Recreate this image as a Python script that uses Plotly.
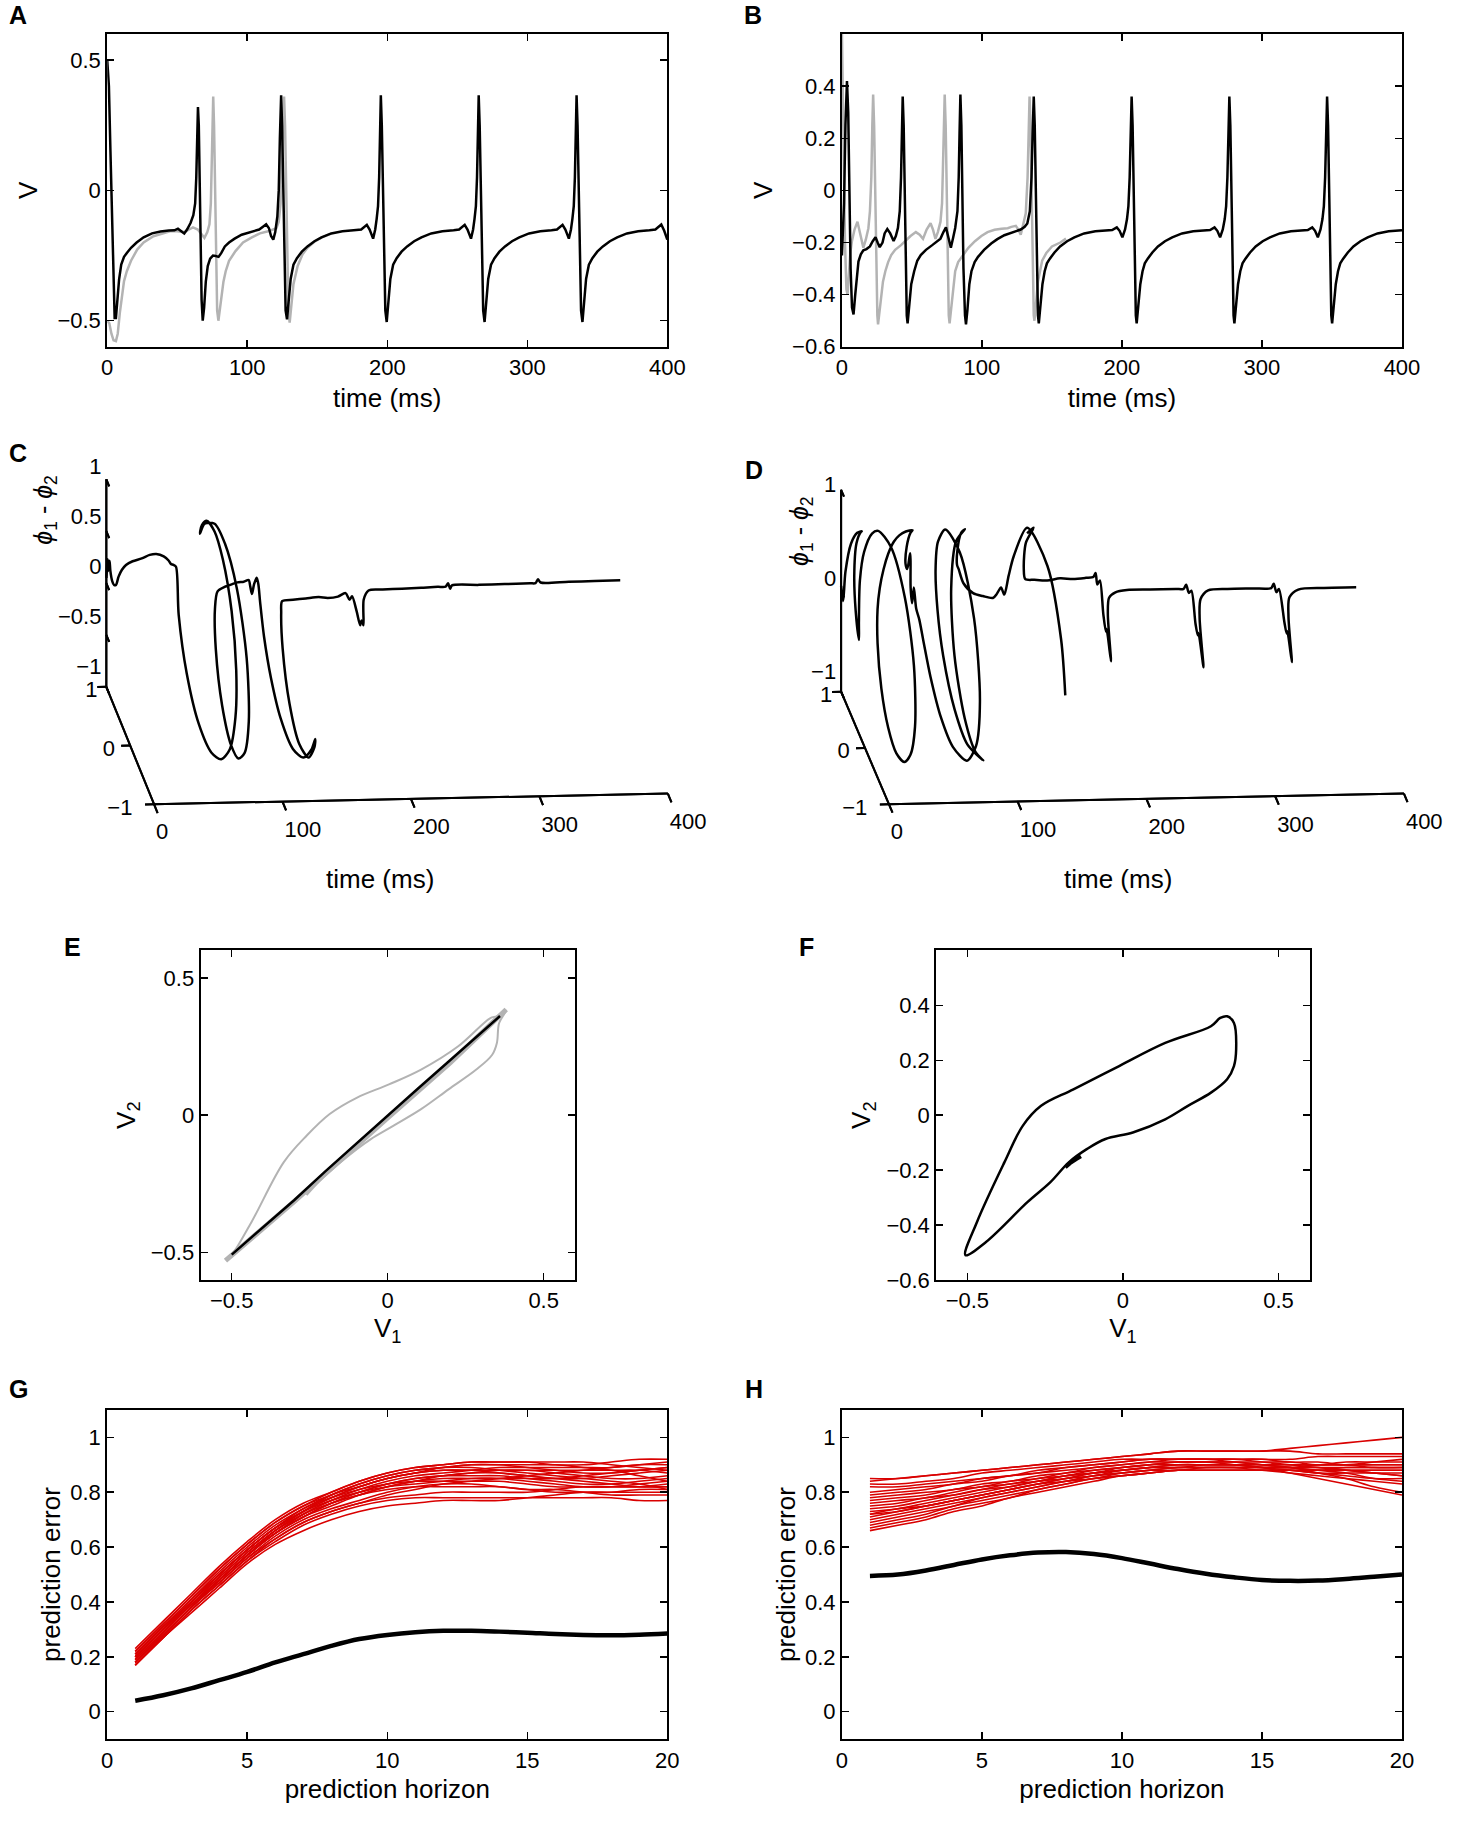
import numpy as np
import plotly.graph_objects as go

FONT = "Liberation Sans, Arial, Helvetica, sans-serif"

# ---------------- Panel A : V(t), black = coupled, gray = reference ----------------
a_black = [(0, 0.50), (1.2, 0.40), (2.3, 0.15), (3.3, -0.10), (4.3, -0.33), (5.3, -0.49), (6.2, -0.49),
           (7.3, -0.42), (8.5, -0.34), (10.0, -0.285), (12.0, -0.255), (14.0, -0.24), (17.0, -0.22),
           (21.0, -0.20), (26.0, -0.18), (32.0, -0.165), (38.0, -0.158), (44.0, -0.154), (48.0, -0.153),
           (50.5, -0.147), (52.5, -0.155), (55.0, -0.165), (57.0, -0.15), (59.5, -0.125), (61.5, -0.095),
           (62.8, -0.05), (63.6, 0.05), (64.2, 0.20), (64.8, 0.32), (65.4, 0.25), (66.0, 0.05), (66.7, -0.20),
           (67.4, -0.42), (68.2, -0.50), (69.2, -0.45), (70.4, -0.35), (71.8, -0.29), (73.5, -0.262),
           (75.5, -0.25), (77.5, -0.252), (79.5, -0.255), (81.5, -0.24), (84.0, -0.215), (87.0, -0.20),
           (91.0, -0.185), (96.0, -0.17), (101.0, -0.162), (105.5, -0.157), (108.5, -0.15), (111.0, -0.14),
           (113.5, -0.13), (115.5, -0.145), (117.0, -0.175), (118.6, -0.189), (120.0, -0.16), (121.5, -0.10),
           (122.5, 0.0), (123.3, 0.20), (124.2, 0.365), (124.9, 0.25), (125.6, 0.0), (126.4, -0.28),
           (127.4, -0.46), (128.4, -0.495), (129.5, -0.44), (131.0, -0.34), (133.0, -0.285), (135.5, -0.26),
           (139.0, -0.235), (143.0, -0.215), (148.0, -0.195), (153.0, -0.18), (160.0, -0.165), (168.0, -0.157),
           (176.0, -0.153), (181.4, -0.15), (185.4, -0.132), (187.4, -0.15), (189.9, -0.185), (191.4, -0.15),
           (192.4, -0.11), (193.4, -0.06), (194.2, 0.05), (194.8, 0.22), (195.4, 0.365), (196.1, 0.25),
           (196.8, 0.0), (197.6, -0.28), (198.6, -0.46), (199.6, -0.505), (200.7, -0.44), (202.2, -0.34),
           (204.2, -0.285), (206.7, -0.26), (210.2, -0.235), (214.2, -0.215), (219.2, -0.195), (224.4, -0.18),
           (231.4, -0.165), (239.4, -0.157), (247.4, -0.153), (251.3, -0.15), (255.3, -0.132), (257.3, -0.15),
           (259.8, -0.185), (261.3, -0.15), (262.3, -0.11), (263.3, -0.06), (264.1, 0.05), (264.7, 0.22),
           (265.3, 0.365), (266.0, 0.25), (266.7, 0.0), (267.5, -0.28), (268.5, -0.46), (269.5, -0.505),
           (270.6, -0.44), (272.1, -0.34), (274.1, -0.285), (276.6, -0.26), (280.1, -0.235), (284.1, -0.215),
           (289.1, -0.195), (294.3, -0.18), (301.3, -0.165), (309.3, -0.157), (317.3, -0.153), (321.2, -0.15),
           (325.2, -0.132), (327.2, -0.15), (329.7, -0.185), (331.2, -0.15), (332.2, -0.11), (333.2, -0.06),
           (334.0, 0.05), (334.6, 0.22), (335.2, 0.365), (335.9, 0.25), (336.6, 0.0), (337.4, -0.28),
           (338.4, -0.46), (339.4, -0.505), (340.5, -0.44), (342.0, -0.34), (344.0, -0.285), (346.5, -0.26),
           (350.0, -0.235), (354.0, -0.215), (359.0, -0.195), (364.2, -0.18), (371.2, -0.165), (379.2, -0.157),
           (387.2, -0.153), (391.5, -0.15), (395.7, -0.131), (397.8, -0.155), (400.0, -0.189)]

a_gray = [(0, -0.50), (1.5, -0.51), (3.0, -0.55), (4.5, -0.575), (6.2, -0.578), (7.5, -0.55), (9.0, -0.47),
          (10.5, -0.40), (12.0, -0.348), (14.0, -0.31), (17.0, -0.27), (21.4, -0.227), (26.0, -0.20),
          (33.0, -0.176), (39.0, -0.165), (44.8, -0.157), (50.0, -0.157), (55.0, -0.16), (58.5, -0.15),
          (61.2, -0.142), (64.7, -0.15), (67.0, -0.165), (69.4, -0.182), (71.5, -0.16), (73.0, -0.13),
          (74.0, -0.05), (74.7, 0.12), (75.2, 0.28), (75.7, 0.36), (76.3, 0.25), (76.9, 0.0), (77.6, -0.28),
          (78.5, -0.46), (79.4, -0.50), (80.4, -0.46), (81.6, -0.40), (83.0, -0.35), (84.6, -0.31),
          (87.0, -0.27), (91.6, -0.233), (97.0, -0.20), (103.3, -0.18), (109.0, -0.165), (115.0, -0.157),
          (118.0, -0.152), (120.8, -0.145), (122.5, -0.12), (123.8, -0.05), (124.8, 0.15), (125.6, 0.30),
          (126.3, 0.36), (127.0, 0.25), (127.7, 0.0), (128.5, -0.28), (129.4, -0.46), (130.3, -0.507),
          (131.4, -0.45), (133.0, -0.36), (136.0, -0.29), (139.5, -0.245), (143.0, -0.22), (148.0, -0.197),
          (153.0, -0.181), (160.0, -0.166)]

# ---------------- Panel B ----------------
b_black = [(0, -0.25), (1.5, -0.05), (2.5, 0.25), (3.6, 0.42), (4.5, 0.30), (5.3, 0.0), (6.2, -0.30),
           (7.2, -0.45), (8.3, -0.476), (9.5, -0.40), (10.5, -0.33), (11.8, -0.273), (13.5, -0.245),
           (15.3, -0.23), (17.5, -0.225), (20.0, -0.215), (22.0, -0.195), (24.0, -0.18), (25.5, -0.20),
           (27.0, -0.218), (29.0, -0.20), (30.5, -0.165), (32.4, -0.148), (34.5, -0.165), (36.9, -0.194),
           (38.5, -0.175), (40.0, -0.144), (41.3, -0.08), (42.2, 0.05), (42.8, 0.22), (43.4, 0.36),
           (44.1, 0.25), (44.8, 0.0), (45.6, -0.30), (46.3, -0.48), (46.9, -0.51), (47.9, -0.46),
           (49.5, -0.36), (51.6, -0.31), (53.8, -0.27), (56.3, -0.248), (60.0, -0.228), (64.5, -0.21),
           (70.4, -0.185), (72.5, -0.16), (74.3, -0.142), (76.0, -0.18), (77.8, -0.22), (79.5, -0.18),
           (80.9, -0.144), (82.5, -0.08), (83.4, 0.05), (84.0, 0.22), (84.6, 0.368), (85.3, 0.25),
           (86.0, 0.0), (86.8, -0.30), (87.9, -0.48), (88.6, -0.514), (89.6, -0.46), (91.0, -0.36),
           (92.5, -0.31), (94.8, -0.275), (97.2, -0.255), (101.5, -0.228), (106.6, -0.204), (111.0, -0.187),
           (116.0, -0.172), (122.0, -0.16), (127.7, -0.15), (130.5, -0.14), (132.4, -0.127), (134.2, -0.08),
           (135.4, 0.05), (136.2, 0.22), (137.0, 0.36), (137.7, 0.25), (138.4, 0.0), (139.2, -0.30),
           (140.0, -0.48), (140.6, -0.51), (141.6, -0.46), (143.2, -0.36), (144.8, -0.31), (146.4, -0.28),
           (148.5, -0.262), (151.8, -0.238), (155.8, -0.215), (160.8, -0.195), (166.0, -0.18), (173.0, -0.165),
           (181.0, -0.157), (189.0, -0.153), (193.0, -0.152), (196.3, -0.142), (198.3, -0.155), (200.3, -0.18),
           (202.2, -0.15), (203.6, -0.11), (204.6, -0.06), (205.5, 0.05), (206.2, 0.22), (206.9, 0.36),
           (207.6, 0.25), (208.3, 0.0), (209.1, -0.30), (209.9, -0.48), (210.5, -0.51), (211.5, -0.46),
           (213.1, -0.36), (214.7, -0.31), (216.3, -0.28), (218.4, -0.262), (221.7, -0.238), (225.7, -0.215),
           (230.7, -0.195), (235.9, -0.18), (242.9, -0.165), (250.9, -0.157), (258.9, -0.153), (262.9, -0.152),
           (266.1, -0.142), (268.1, -0.155), (270.1, -0.18), (272.0, -0.15), (273.4, -0.11), (274.4, -0.06),
           (275.3, 0.05), (276.0, 0.22), (276.7, 0.36), (277.4, 0.25), (278.1, 0.0), (278.9, -0.30),
           (279.7, -0.48), (280.3, -0.51), (281.3, -0.46), (282.9, -0.36), (284.5, -0.31), (286.1, -0.28),
           (288.2, -0.262), (291.5, -0.238), (295.5, -0.215), (300.5, -0.195), (305.7, -0.18), (312.7, -0.165),
           (320.7, -0.157), (328.7, -0.153), (332.7, -0.152), (335.9, -0.142), (337.9, -0.155), (339.9, -0.18),
           (341.8, -0.15), (343.2, -0.11), (344.2, -0.06), (345.1, 0.05), (345.8, 0.22), (346.5, 0.36),
           (347.2, 0.25), (347.9, 0.0), (348.7, -0.30), (349.5, -0.48), (350.1, -0.51), (351.1, -0.46),
           (352.7, -0.36), (354.3, -0.31), (355.9, -0.28), (358.0, -0.262), (361.3, -0.238), (365.3, -0.215),
           (370.3, -0.195), (375.5, -0.18), (382.5, -0.165), (390.5, -0.157), (398.5, -0.153), (400.0, -0.153)]

b_gray = [(0, 0.60), (1.0, 0.20), (2.2, -0.20), (3.2, -0.38), (4.0, -0.40), (5.0, -0.32), (6.0, -0.24),
          (7.1, -0.196), (9.0, -0.15), (11.1, -0.12), (13.0, -0.17), (15.3, -0.22), (17.0, -0.19),
          (18.9, -0.145), (20.0, -0.08), (21.0, 0.05), (21.7, 0.25), (22.3, 0.368), (23.0, 0.25), (23.7, 0.0),
          (24.5, -0.30), (25.3, -0.48), (25.8, -0.514), (26.8, -0.47), (28.0, -0.40), (29.3, -0.35),
          (31.0, -0.31), (33.0, -0.275), (35.2, -0.248), (38.0, -0.228), (42.2, -0.21), (45.7, -0.19),
          (49.0, -0.175), (52.8, -0.16), (55.5, -0.17), (57.9, -0.186), (60.5, -0.15), (63.3, -0.126),
          (65.0, -0.15), (66.8, -0.186), (68.5, -0.16), (70.4, -0.12), (71.5, -0.05), (72.2, 0.10),
          (72.8, 0.25), (73.4, 0.368), (74.1, 0.25), (74.8, 0.0), (75.6, -0.30), (76.3, -0.48), (76.9, -0.51),
          (77.9, -0.46), (79.3, -0.37), (80.9, -0.31), (83.0, -0.275), (85.6, -0.255), (90.3, -0.22),
          (95.0, -0.195), (99.6, -0.175), (104.0, -0.16), (109.0, -0.151), (114.0, -0.147), (118.4, -0.145),
          (121.0, -0.14), (124.2, -0.136), (126.0, -0.15), (127.7, -0.17), (129.5, -0.13), (131.3, -0.088),
          (132.6, 0.05), (133.3, 0.22), (134.0, 0.36), (134.7, 0.25), (135.4, 0.0), (136.2, -0.30),
          (137.0, -0.48), (137.5, -0.50), (138.5, -0.45), (140.0, -0.35), (143.0, -0.27), (146.0, -0.24),
          (150.0, -0.215), (156.0, -0.20), (160.0, -0.185)]

# ---------------- Panels C, D : phase difference (rad) vs time, drawn as (t, cos, sin) ----------------
c_phase = [(0, 0.05), (0.5, 0.25), (1.2, 0.12), (2, 0.23), (3, 0.12), (4.5, 0.02), (6, -0.02), (7.5, -0.02),
           (9.5, 0.06), (12, 0.13), (15, 0.18), (20, 0.22), (27, 0.25), (33, 0.29), (38, 0.30), (44, 0.27),
           (48, 0.22), (50, 0.18), (52, 0.17), (54, 0.15), (55.5, -0.3), (57, -0.8), (58.5, -1.3), (60, -1.75),
           (61.5, -2.1), (62.7, -2.5), (63.7, -2.95), (64.6, -3.4), (65.5, -3.9), (66.4, -4.4), (67.3, -4.8),
           (68.2, -5.2), (69, -5.5), (69.8, -5.7), (70.4, -5.45), (71, -5.0), (71.6, -4.6), (72.4, -4.1),
           (73.3, -3.5), (74.3, -2.9), (75.3, -2.4), (76.5, -2.0), (78, -1.6), (80, -1.1), (82, -0.6),
           (84, -0.25), (86.5, -0.1), (92, -0.06), (97, -0.04), (102, -0.02), (107, -0.015), (110.8, 0.0),
           (112, -0.06), (113.2, -0.13), (115, -0.04), (117, 0.02), (118.3, -0.04), (119.3, -0.2),
           (120.5, -0.5), (121.8, -0.85), (123, -1.25), (124.3, -1.7), (125.5, -2.1), (126.7, -2.45),
           (127.7, -2.65), (128.5, -2.5), (129.5, -2.1), (131, -1.6), (132.5, -1.1), (134, -0.6), (135.3, -0.3),
           (136.5, -0.2), (145, -0.19), (155, -0.18), (165, -0.17), (172, -0.18), (180, -0.17), (186, -0.14),
           (189, -0.2), (191, -0.17), (194, -0.3), (196, -0.42), (197.3, -0.38), (198.5, -0.42), (200, -0.2),
           (204, -0.12), (215, -0.115), (230, -0.11), (245, -0.105), (258, -0.10), (264, -0.10), (266, -0.07),
           (267.5, -0.12), (269, -0.09), (290, -0.09), (310, -0.088), (329.8, -0.085), (334, -0.085),
           (336, -0.05), (338, -0.08), (360, -0.078), (380, -0.077), (400, -0.075)]

d_phase = [(0, 0.05), (1.5, -0.1), (3, 0.2), (4.5, 0.6), (5.5, 0.9), (6.5, 1.06), (7.5, 0.95), (8.7, 0.6),
           (10, 0.15), (11, -0.2), (12, -0.45), (13, -0.3), (14.5, 0.1), (16, 0.45), (17.7, 0.85), (19.3, 1.06),
           (19.7, 1.6), (20.1, 2.2), (20.5, 2.8), (20.9, 3.4), (21.2, 3.85), (21.5, 4.2), (22.2, 4.6),
           (23.2, 5.0), (24.5, 5.4), (26.2, 5.8), (28, 6.1), (30, 6.3), (32.5, 6.5), (35, 6.7), (37.5, 6.9),
           (40, 7.05), (43, 7.2), (46, 7.34), (47.5, 7.15), (48.5, 6.8), (49.5, 6.55), (51, 6.5), (52, 6.7),
           (53, 6.6), (54, 6.3), (55, 6.15), (56.5, 6.3), (58, 6.1), (60, 6.0), (62, 5.8), (64, 5.5),
           (66, 5.1), (68, 4.7), (70, 4.2), (70.4, 3.7), (70.7, 3.14), (71, 2.4), (71.2, 1.7), (71.4, 1.06),
           (72, 0.6), (73, 0.2), (74.5, -0.2), (76, -0.6), (78, -1.1), (80, -1.55), (82.7, -2.08),
           (83.5, -1.7), (84.2, -1.2), (84.8, -0.6), (85.5, 0.0), (86.1, 0.6), (86.7, 1.06), (87.5, 0.8),
           (88.5, 0.45), (89.5, 0.25), (91, 0.2), (95, 0.05), (102.5, -0.05), (110, -0.08), (117.8, -0.1),
           (121, -0.06), (124.2, 0.0), (126.7, -0.07), (130, 0.12), (133, 0.35), (135, 1.06), (135.7, 1.9),
           (136.4, 2.6), (137, 3.1), None,
           (139.5, 0.75), (140, 1.06), (140.8, 0.55), (141.5, 0.2), (143, 0.08), (150, 0.07), (160, 0.06),
           (170, 0.08), (180, 0.07), (190, 0.08), (196, 0.09), (197.5, 0.13), (199, 0.01), (201, 0.05),
           (203, -0.27), (204, -0.42), (204.7, -0.40), (205.5, -0.68), (206.5, -0.27), (208, -0.12),
           (213, -0.07), (222, -0.05), (240, -0.05), (260, -0.05), (266, -0.05), (268, -0.01), (270, -0.09),
           (272, -0.07), (274, -0.37), (275, -0.47), (275.7, -0.45), (276.5, -0.75), (277.5, -0.32),
           (279, -0.15), (285, -0.07), (300, -0.06), (320, -0.06), (334, -0.06), (336, -0.02), (338, -0.10),
           (340, -0.07), (343, -0.37), (344, -0.47), (344.7, -0.45), (345.5, -0.72), (346.5, -0.32),
           (348, -0.15), (355, -0.08), (375, -0.07), (400, -0.07)]

# 3-D box of panels C and D (MATLAB-style plot3 axes)
box_time_ticks = [0, 100, 200, 300, 400]
box_time_labels = ["0", "100", "200", "300", "400"]
box_depth_ticks = [-1, 0, 1]
box_depth_labels = ["\u22121", "0", "1"]
c_vert_ticks = [-1, -0.5, 0, 0.5, 1]
c_vert_labels = ["\u22121", "\u22120.5", "0", "0.5", "1"]
d_vert_ticks = [-1, 0, 1]
d_vert_labels = ["\u22121", "0", "1"]

# ---------------- Panels E, F : V2 vs V1 ----------------
e_black_v1 = [-0.50, -0.40, -0.30, -0.20, -0.10, 0.0, 0.10, 0.20, 0.30, 0.36]
e_black_v2 = [-0.508, -0.41, -0.31, -0.205, -0.103, 0.0, 0.10, 0.20, 0.30, 0.361]
e_gray_loop_v1 = [-0.514, -0.499, -0.436, -0.333, -0.26, -0.186, -0.098, 0.004, 0.107, 0.225, 0.328, 0.35,
                  0.379, 0.357, 0.35, 0.335, 0.284, 0.195, 0.107, 0.019, -0.054, -0.098, -0.157, -0.216, -0.26]
e_gray_loop_v2 = [-0.523, -0.508, -0.388, -0.171, -0.075, 0.004, 0.064, 0.112, 0.166, 0.25, 0.353, 0.361,
                  0.381, 0.335, 0.263, 0.22, 0.166, 0.094, 0.022, -0.038, -0.087, -0.123, -0.177, -0.237, -0.291]
e_gray_diag_v1 = [-0.52, -0.30, 0.0, 0.20, 0.38]
e_gray_diag_v2 = [-0.53, -0.315, -0.01, 0.19, 0.385]

f_v1 = [-0.506, -0.469, -0.381, -0.322, -0.263, -0.159, -0.012, 0.136, 0.283, 0.313, 0.335, 0.357, 0.364,
        0.357, 0.335, 0.283, 0.209, 0.136, 0.032, -0.056, -0.115, -0.174, -0.233, -0.307, -0.44, -0.506]
f_v2 = [-0.51, -0.389, -0.172, -0.039, 0.034, 0.094, 0.179, 0.263, 0.324, 0.354, 0.36, 0.336, 0.239, 0.179,
        0.131, 0.082, 0.034, -0.015, -0.063, -0.087, -0.123, -0.172, -0.244, -0.317, -0.462, -0.51]
f_trans_v1 = [-0.185, -0.17, -0.15, -0.135]
f_trans_v2 = [-0.19, -0.175, -0.16, -0.15]

# ---------------- Panels G, H : prediction error ----------------
horizon = list(range(1, 21))
g_black = [0.04, 0.06, 0.085, 0.115, 0.145, 0.18, 0.21, 0.24, 0.265, 0.28, 0.29, 0.295, 0.295, 0.292, 0.288,
           0.283, 0.28, 0.279, 0.281, 0.285]
g_red = [
    [.23, .33, .43, .53, .62, .70, .76, .80, .84, .87, .89, .90, .91, .91, .91, .90, .90, .91, .92, .92],
    [.22, .32, .42, .52, .61, .69, .75, .79, .83, .86, .88, .89, .90, .90, .89, .88, .87, .87, .88, .89],
    [.21, .31, .41, .50, .59, .67, .73, .78, .82, .85, .87, .88, .88, .87, .86, .85, .85, .86, .87, .88],
    [.20, .30, .40, .49, .58, .66, .72, .77, .80, .83, .85, .86, .86, .86, .85, .84, .83, .83, .84, .85],
    [.19, .29, .39, .48, .57, .65, .71, .75, .79, .82, .84, .85, .85, .85, .84, .83, .82, .82, .82, .83],
    [.18, .28, .38, .47, .56, .64, .70, .74, .77, .80, .82, .83, .83, .82, .81, .80, .80, .80, .81, .81],
    [.17, .27, .37, .46, .55, .62, .68, .72, .75, .77, .78, .78, .78, .78, .78, .78, .78, .78, .77, .77],
    [.17, .27, .36, .45, .54, .61, .66, .70, .73, .75, .76, .77, .77, .77, .78, .79, .80, .80, .80, .80],
    [.18, .28, .38, .48, .57, .66, .73, .79, .83, .86, .88, .89, .90, .90, .90, .90, .89, .88, .86, .84],
    [.20, .30, .40, .50, .59, .67, .74, .78, .81, .83, .84, .84, .84, .84, .83, .82, .82, .82, .83, .84],
    [.19, .29, .39, .49, .58, .66, .72, .76, .79, .81, .82, .82, .82, .82, .81, .81, .80, .79, .79, .79],
    [.21, .31, .41, .51, .60, .68, .74, .79, .82, .85, .87, .89, .89, .88, .87, .86, .85, .84, .83, .81],
    [.18, .28, .38, .47, .56, .63, .69, .73, .76, .79, .81, .83, .84, .85, .86, .87, .88, .89, .90, .90],
    [.20, .30, .40, .50, .59, .67, .73, .78, .82, .85, .87, .88, .88, .88, .88, .88, .88, .88, .88, .87],
    [.22, .32, .42, .52, .61, .69, .75, .80, .84, .87, .89, .90, .91, .91, .91, .91, .91, .90, .89, .88],
    [.19, .29, .39, .48, .57, .65, .71, .76, .80, .83, .85, .86, .87, .88, .88, .87, .86, .85, .85, .86],
    [.21, .31, .40, .50, .59, .67, .73, .77, .80, .82, .83, .84, .85, .85, .85, .85, .86, .87, .88, .89],
    [.17, .27, .37, .46, .55, .63, .69, .73, .76, .78, .79, .80, .80, .80, .80, .81, .82, .82, .82, .82],
    [.20, .30, .39, .48, .57, .65, .71, .76, .79, .82, .84, .86, .87, .87, .86, .85, .84, .83, .82, .82],
    [.18, .28, .38, .48, .57, .65, .72, .77, .81, .84, .86, .87, .88, .89, .89, .89, .89, .89, .90, .91],
]
h_black = [0.495, 0.50, 0.515, 0.535, 0.555, 0.57, 0.58, 0.582, 0.575, 0.56, 0.54, 0.52, 0.503, 0.49, 0.48,
           0.477, 0.478, 0.484, 0.492, 0.50]
h_red = [
    [.85, .85, .86, .87, .88, .89, .90, .91, .92, .93, .94, .95, .95, .95, .95, .96, .97, .98, .99, 1.0],
    [.84, .85, .86, .87, .88, .89, .90, .91, .92, .93, .94, .95, .95, .95, .95, .95, .94, .94, .94, .94],
    [.83, .83, .84, .85, .87, .88, .89, .90, .91, .92, .92, .92, .92, .92, .92, .92, .93, .93, .93, .93],
    [.80, .81, .82, .83, .85, .86, .88, .89, .90, .91, .92, .92, .92, .91, .90, .89, .88, .87, .85, .84],
    [.79, .80, .81, .83, .84, .86, .87, .88, .89, .90, .91, .92, .92, .92, .91, .90, .89, .88, .87, .86],
    [.78, .79, .80, .81, .83, .84, .86, .87, .89, .90, .91, .91, .91, .90, .89, .87, .85, .83, .81, .79],
    [.77, .78, .79, .81, .82, .84, .85, .87, .88, .89, .90, .91, .91, .91, .91, .91, .90, .90, .89, .89],
    [.76, .77, .78, .80, .82, .83, .85, .86, .88, .89, .90, .91, .91, .91, .90, .89, .87, .85, .82, .80],
    [.75, .76, .78, .79, .81, .83, .84, .86, .87, .89, .90, .90, .90, .90, .90, .90, .90, .91, .91, .91],
    [.74, .75, .77, .79, .81, .82, .84, .86, .87, .88, .89, .90, .90, .90, .89, .89, .88, .88, .88, .88],
    [.73, .74, .76, .78, .80, .82, .84, .85, .87, .88, .89, .89, .90, .90, .90, .90, .90, .90, .90, .90],
    [.72, .74, .75, .77, .79, .81, .83, .85, .87, .88, .89, .90, .90, .90, .89, .88, .87, .86, .85, .85],
    [.71, .73, .75, .77, .79, .81, .83, .84, .86, .87, .88, .89, .89, .89, .89, .89, .89, .89, .89, .89],
    [.70, .72, .74, .76, .78, .80, .82, .84, .86, .87, .88, .89, .89, .89, .89, .89, .90, .90, .91, .92],
    [.69, .71, .73, .75, .78, .80, .82, .84, .85, .87, .88, .88, .89, .89, .88, .88, .87, .87, .87, .87],
    [.68, .70, .72, .75, .77, .79, .81, .83, .85, .86, .87, .88, .88, .88, .88, .88, .88, .88, .88, .88],
    [.67, .69, .71, .74, .76, .78, .81, .83, .85, .86, .87, .88, .88, .88, .88, .87, .86, .85, .84, .83],
    [.66, .68, .70, .73, .75, .78, .80, .82, .84, .86, .87, .88, .88, .88, .88, .88, .88, .89, .89, .89],
    [.82, .82, .83, .84, .85, .86, .87, .89, .90, .91, .92, .92, .92, .92, .92, .91, .91, .90, .90, .90],
    [.72, .73, .75, .77, .79, .81, .83, .85, .86, .88, .89, .89, .89, .89, .89, .89, .89, .88, .87, .86],
]

BLACK = "#000000"
GRAY = "#b3b3b3"
RED = "#d90000"
W, H = 1466, 1822


def unzip(pairs):
    return [p[0] for p in pairs], [p[1] for p in pairs]


# Orthographic views for the two 3-D panels (page pixel units): origin = corner (t=0, y=-1, z=-1),
# then the screen displacement per unit of t, y and z; label offsets for the vertical axis.
C_VIEW = dict(ox=150.5, oy=810.0, tx=1.306, ty=-0.02675, yx=-24.25, yy=-59.15, zx=0.0, zy=-104.5,
              lab_a=11.0, lab_b=3.5)
D_VIEW = dict(ox=897.6, oy=810.0, tx=1.309, ty=-0.02675, yx=-24.3, yy=-56.65, zx=0.0, zy=-101.7,
              lab_a=3.0, lab_b=7.5)
PANEL_BOTTOM = 930.0  # page y of the bottom of the C/D drawing axes


def project(view, t, y, z):
    px = view["ox"] + t * view["tx"] + (y + 1) * view["yx"] + (z + 1) * view["zx"]
    py = view["oy"] + t * view["ty"] + (y + 1) * view["yy"] + (z + 1) * view["zy"]
    return px, PANEL_BOTTOM - py


def phase_curve(view, pairs):
    xs, ys = [], []
    for p in pairs:
        if p is None:
            xs.append(None); ys.append(None)
            continue
        X, Y = project(view, p[0], float(np.cos(p[1])), float(np.sin(p[1])))
        xs.append(X); ys.append(Y)
    return xs, ys


fig = go.Figure()

# A
tx, vy = unzip(a_gray)
fig.add_trace(go.Scatter(x=tx, y=vy, mode="lines", line=dict(color=GRAY, width=2.5), xaxis="x", yaxis="y"))
tx, vy = unzip(a_black)
fig.add_trace(go.Scatter(x=tx, y=vy, mode="lines", line=dict(color=BLACK, width=2.5), xaxis="x", yaxis="y"))
# B
tx, vy = unzip(b_gray)
fig.add_trace(go.Scatter(x=tx, y=vy, mode="lines", line=dict(color=GRAY, width=2.5), xaxis="x2", yaxis="y2"))
tx, vy = unzip(b_black)
fig.add_trace(go.Scatter(x=tx, y=vy, mode="lines", line=dict(color=BLACK, width=2.5), xaxis="x2", yaxis="y2"))

# C and D: projected 3-D curves with their box axes
annotations = []
shapes = []
LABEL_FONT = dict(family=FONT, size=22, color="black")


def to_paper(X, Y):
    return X / W, (H - PANEL_BOTTOM + Y) / H


def segs(view, pairs_ab, xa, ya, width=2):
    xs, ys = [], []
    for a, b in pairs_ab:
        p0 = project(view, *a)
        p1 = project(view, *b)
        xs += [p0[0], p1[0], None]
        ys += [p0[1], p1[1], None]
        q0 = to_paper(*p0)
        q1 = to_paper(*p1)
        shapes.append(dict(type="line", xref="paper", yref="paper", x0=q0[0], y0=q0[1], x1=q1[0], y1=q1[1],
                           line=dict(color=BLACK, width=width), layer="above"))
    fig.add_trace(go.Scatter(x=xs, y=ys, mode="lines", connectgaps=False, cliponaxis=False,
                             line=dict(color=BLACK, width=width, simplify=False), xaxis=xa, yaxis=ya))


def labels(xs, ys, texts, pos, xa, ya):
    fig.add_trace(go.Scatter(x=xs, y=ys, text=texts, mode="text", textposition=pos, cliponaxis=False,
                             textfont=LABEL_FONT, xaxis=xa, yaxis=ya))


for view, pairs, vt, vl, xa, ya in [(C_VIEW, c_phase, c_vert_ticks, c_vert_labels, "x7", "y7"),
                                     (D_VIEW, d_phase, d_vert_ticks, d_vert_labels, "x8", "y8")]:
    box = [((0, -1, -1), (400, -1, -1)), ((0, 1, -1), (0, -1, -1)), ((0, 1, -1), (0, 1, 1))]
    box += [((t, -1, -1), (t, -1.15, -1)) for t in box_time_ticks]
    box += [((0, yv, -1), (-7, yv, -1)) for yv in box_depth_ticks]
    box += [((0, 1, zv), (0, 0.88, zv)) for zv in vt]
    segs(view, box, xa, ya)
    cx, cy = phase_curve(view, pairs)
    fig.add_trace(go.Scatter(x=cx, y=cy, mode="lines", connectgaps=False, cliponaxis=False,
                             line=dict(color=BLACK, width=2.5, shape="spline", smoothing=0.8),
                             xaxis=xa, yaxis=ya))
    lx, ly = [], []
    for t in box_time_ticks:
        X, Y = project(view, t, -1, -1)
        lx.append(X + 2); ly.append(Y - 30)
    labels(lx, ly, box_time_labels, "middle right", xa, ya)
    lx, ly = [], []
    for yv in box_depth_ticks:
        X, Y = project(view, 0, yv, -1)
        lx.append(X - (9 + 6.5 * (1 - yv))); ly.append(Y - 5)
    labels(lx, ly, box_depth_labels, "middle left", xa, ya)
    lx, ly = [], []
    for zv in vt:
        X, Y = project(view, 0, 1, zv)
        lx.append(X - 5); ly.append(Y + view["lab_a"] + view["lab_b"] * (1 - zv))
    labels(lx, ly, vl, "middle left", xa, ya)

# E
fig.add_trace(go.Scatter(x=e_gray_loop_v1, y=e_gray_loop_v2, mode="lines",
                         line=dict(color=GRAY, width=2, shape="spline"), xaxis="x3", yaxis="y3"))
fig.add_trace(go.Scatter(x=e_gray_diag_v1, y=e_gray_diag_v2, mode="lines", line=dict(color=GRAY, width=5),
                         xaxis="x3", yaxis="y3"))
fig.add_trace(go.Scatter(x=e_black_v1, y=e_black_v2, mode="lines", line=dict(color=BLACK, width=2.5),
                         xaxis="x3", yaxis="y3"))
# F
fig.add_trace(go.Scatter(x=f_v1, y=f_v2, mode="lines", line=dict(color=BLACK, width=2.5, shape="spline"),
                         xaxis="x4", yaxis="y4"))
fig.add_trace(go.Scatter(x=f_trans_v1, y=f_trans_v2, mode="lines", line=dict(color=BLACK, width=4),
                         xaxis="x4", yaxis="y4"))
# G
for row in g_red:
    fig.add_trace(go.Scatter(x=horizon, y=row, mode="lines", line=dict(color=RED, width=1.6, shape="spline"),
                             xaxis="x5", yaxis="y5"))
fig.add_trace(go.Scatter(x=horizon, y=g_black, mode="lines", line=dict(color=BLACK, width=4.5, shape="spline"),
                         xaxis="x5", yaxis="y5"))
# H
for row in h_red:
    fig.add_trace(go.Scatter(x=horizon, y=row, mode="lines", line=dict(color=RED, width=1.6, shape="spline"),
                             xaxis="x6", yaxis="y6"))
fig.add_trace(go.Scatter(x=horizon, y=h_black, mode="lines", line=dict(color=BLACK, width=4.5, shape="spline"),
                         xaxis="x6", yaxis="y6"))


def ax2d(**kw):
    d = dict(showline=True, mirror="ticks", linecolor="black", linewidth=2, ticks="inside", ticklen=7,
             tickwidth=1.5, tickcolor="black", showgrid=False, zeroline=False,
             tickfont=dict(family=FONT, size=22, color="black"),
             title_font=dict(family=FONT, size=26, color="black"))
    d.update(kw)
    return d


def hidden(**kw):
    d = dict(visible=False, showgrid=False, zeroline=False, fixedrange=True)
    d.update(kw)
    return d


xA = [0.0702, 0.4586]
xB = [0.5797, 0.9681]
yAB = [0.8083, 0.9812]
yEF = [0.2925, 0.4746]
yGH = [0.0386, 0.2206]
yCD = [(H - PANEL_BOTTOM) / H, (H - 430.0) / H]

fig.update_layout(
    width=W, height=H, margin=dict(l=0, r=0, t=0, b=0),
    paper_bgcolor="white", plot_bgcolor="rgba(0,0,0,0)", showlegend=False, hovermode=False,
    font=dict(family=FONT, color="black"),
    xaxis=ax2d(domain=xA, anchor="y", range=[0, 400], tickvals=[0, 100, 200, 300, 400],
               title=dict(text="time (ms)", standoff=10)),
    yaxis=ax2d(domain=yAB, anchor="x", range=[-0.6, 0.6], tickvals=[-0.5, 0, 0.5],
               title=dict(text="V", standoff=12)),
    xaxis2=ax2d(domain=xB, anchor="y2", range=[0, 400], tickvals=[0, 100, 200, 300, 400],
                title=dict(text="time (ms)", standoff=10)),
    yaxis2=ax2d(domain=yAB, anchor="x2", range=[-0.6, 0.6], tickvals=[-0.6, -0.4, -0.2, 0, 0.2, 0.4],
                title=dict(text="V", standoff=12)),
    xaxis3=ax2d(domain=[0.1349, 0.3945], anchor="y3", range=[-0.6, 0.6], tickvals=[-0.5, 0, 0.5],
                title=dict(text="V<sub>1</sub>", standoff=0)),
    yaxis3=ax2d(domain=yEF, anchor="x3", range=[-0.6, 0.6], tickvals=[-0.5, 0, 0.5],
                title=dict(text="V<sub>2</sub>", standoff=8)),
    xaxis4=ax2d(domain=[0.6451, 0.9040], anchor="y4", range=[-0.6, 0.6], tickvals=[-0.5, 0, 0.5],
                title=dict(text="V<sub>1</sub>", standoff=0)),
    yaxis4=ax2d(domain=yEF, anchor="x4", range=[-0.6, 0.6], tickvals=[-0.6, -0.4, -0.2, 0, 0.2, 0.4],
                title=dict(text="V<sub>2</sub>", standoff=8)),
    xaxis5=ax2d(domain=xA, anchor="y5", range=[0, 20], tickvals=[0, 5, 10, 15, 20],
                title=dict(text="prediction horizon", standoff=8)),
    yaxis5=ax2d(domain=yGH, anchor="x5", range=[-0.1, 1.1], tickvals=[0, 0.2, 0.4, 0.6, 0.8, 1],
                title=dict(text="prediction error", standoff=2)),
    xaxis6=ax2d(domain=xB, anchor="y6", range=[0, 20], tickvals=[0, 5, 10, 15, 20],
                title=dict(text="prediction horizon", standoff=8)),
    yaxis6=ax2d(domain=yGH, anchor="x6", range=[-0.1, 1.1], tickvals=[0, 0.2, 0.4, 0.6, 0.8, 1],
                title=dict(text="prediction error", standoff=2)),
    xaxis7=hidden(domain=[0.0, 0.5], anchor="y7", range=[0, W / 2]),
    yaxis7=hidden(domain=yCD, anchor="x7", range=[0, PANEL_BOTTOM - 430.0]),
    xaxis8=hidden(domain=[0.5, 1.0], anchor="y8", range=[W / 2, W]),
    yaxis8=hidden(domain=yCD, anchor="x8", range=[0, PANEL_BOTTOM - 430.0]),
)

letters = [("A", 12.6, 15), ("B", 759.6, 15), ("C", 12.6, 456), ("D", 760, 473),
           ("E", 68, 954), ("F", 814, 954), ("G", 12.6, 1399), ("H", 760, 1399)]
for txt, px, py in letters:
    annotations.append(dict(text="<b>%s</b>" % txt, x=px / W, y=1 - py / H, xref="paper", yref="paper",
                            showarrow=False, xanchor="center", yanchor="middle",
                            font=dict(family=FONT, size=25, color="black")))
for px, py in [(40, 513), (808, 535)]:
    annotations.append(dict(text="<i>\u03d5</i><sub>1</sub> - <i>\u03d5</i><sub>2</sub>", x=px / W, y=1 - py / H,
                            xref="paper", yref="paper", showarrow=False, textangle=-90, xanchor="center",
                            yanchor="middle", font=dict(family=FONT, size=25, color="black")))
for px, py in [(380, 885), (1130, 885)]:
    annotations.append(dict(text="time (ms)", x=px / W, y=1 - py / H, xref="paper", yref="paper",
                            showarrow=False, xanchor="center", yanchor="middle",
                            font=dict(family=FONT, size=26, color="black")))
fig.update_layout(annotations=annotations, shapes=shapes)

fig.write_html("out.html", config={"displayModeBar": False, "staticPlot": True},
               post_script="document.body.style.margin='0';document.body.style.overflow='hidden';")
